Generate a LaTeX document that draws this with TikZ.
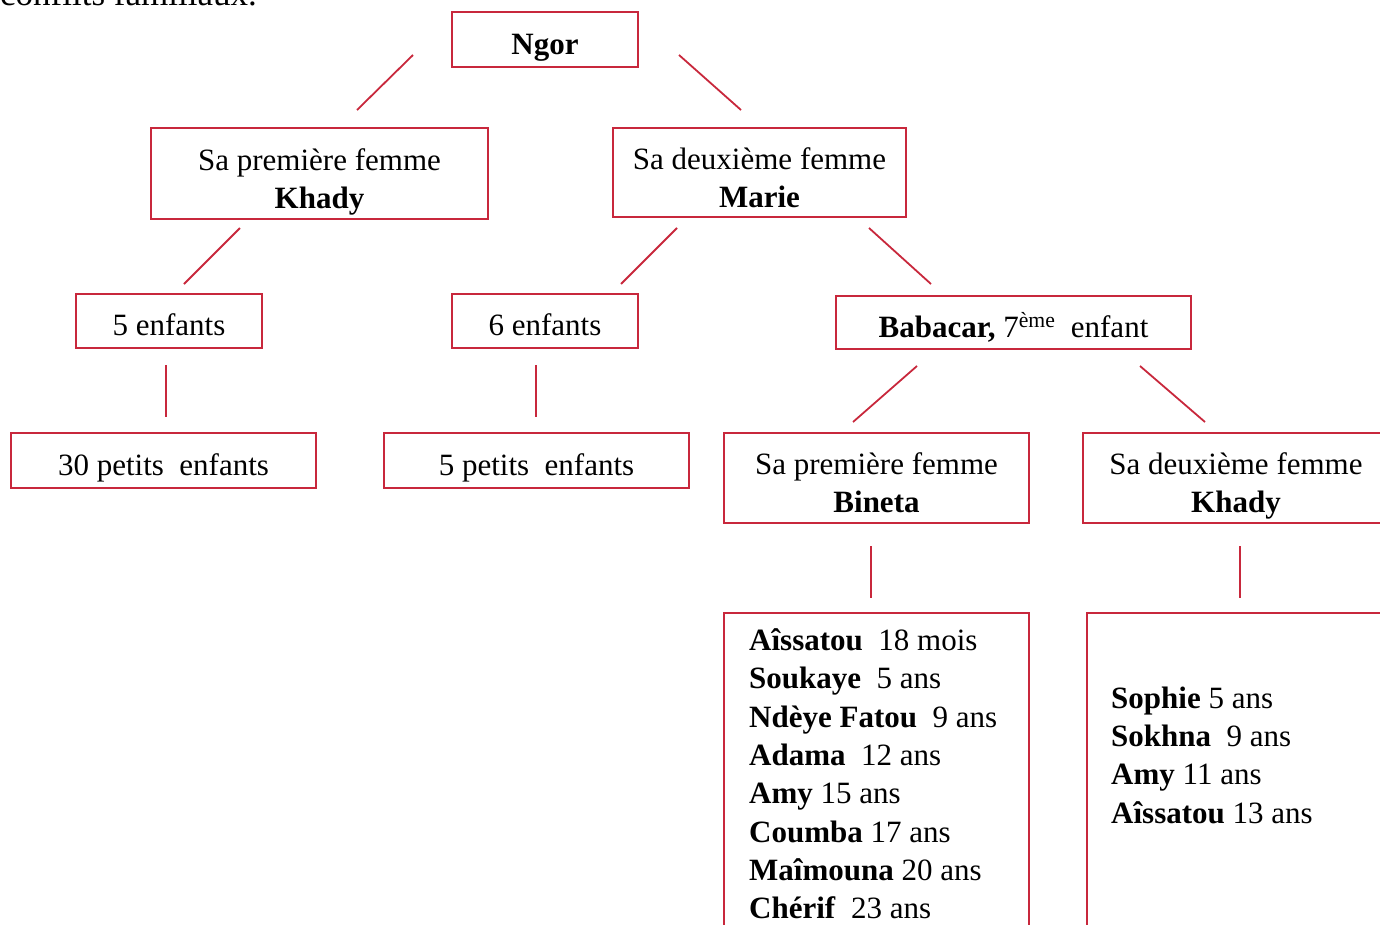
\documentclass[tikz,border=0pt]{standalone}
\usepackage{fontspec}
\setmainfont{Liberation Serif}
\definecolor{boxred}{RGB}{200,40,60}
\newcommand{\hstrut}{\rule{0pt}{39.3pt}}
\newcommand{\dstrut}{\rule[-8pt]{0pt}{8pt}}
\begin{document}
\begin{tikzpicture}[x=1pt,y=-1pt,
  box/.style={draw=boxred, line width=2.5pt, inner sep=0pt, align=center,
    font=\fontsize{31}{38.3}\selectfont,
    execute at begin node={\rule[-8pt]{0pt}{45pt}},
    execute at end node={\rule[-8pt]{0pt}{8pt}}},
  boxtwo/.style={draw=boxred, line width=2.5pt, inner sep=0pt, align=center,
    font=\fontsize{31}{38.3}\selectfont},
  link/.style={draw=boxred, line width=1.8pt},
  list/.style={anchor=north west, inner sep=0pt, align=left, font=\fontsize{31}{38.3}\selectfont}]
\useasboundingbox (0,0) rectangle (1380,924);
\clip (0,0) rectangle (1380,924);
\node[anchor=base west, inner sep=0pt, font=\fontsize{35}{40}\selectfont] (intro) at (0,5) {conflits familiaux.};
% boxes
\node[box, minimum width=186, minimum height=55] (ngor) at (545,39.5) {\textbf{Ngor}};
\node[boxtwo, minimum width=337, minimum height=91] (khady1) at (319.5,173.5) {\hstrut Sa première femme\\\textbf{Khady}\dstrut};
\node[boxtwo, minimum width=293, minimum height=89] (marie) at (759.5,172.5) {\hstrut Sa deuxième femme\\\textbf{Marie}\dstrut};
\node[box, minimum width=186, minimum height=54] (e5) at (169,321) {5 enfants};
\node[box, minimum width=186, minimum height=54] (e6) at (545,321) {6 enfants};
\node[box, minimum width=355, minimum height=53] (baba) at (1013.5,322.5) {\textbf{Babacar,} 7\textsuperscript{ème}\ \ enfant};
\node[box, minimum width=305, minimum height=55] (pe30) at (163.5,460.5) {30 petits\ \ enfants};
\node[box, minimum width=305, minimum height=55] (pe5) at (536.5,460.5) {5 petits\ \ enfants};
\node[boxtwo, minimum width=305, minimum height=90] (bineta) at (876.5,478) {\hstrut Sa première femme\\\textbf{Bineta}\dstrut};
\node[boxtwo, minimum width=306, minimum height=90] (khady2) at (1236,478) {\hstrut Sa deuxième femme\\\textbf{Khady}\dstrut};
\node[draw=boxred, line width=2.5pt, minimum width=305, minimum height=360] (kids1) at (876.5,793) {};
\node[draw=boxred, line width=2.5pt, minimum width=305, minimum height=360] (kids2) at (1239.5,793) {};
\node[list] (list1) at (749,628.5) {\textbf{Aîssatou}\ \ 18 mois\\
\textbf{Soukaye}\ \ 5 ans\\
\textbf{Ndèye Fatou}\ \ 9 ans\\
\textbf{Adama}\ \ 12 ans\\
\textbf{Amy} 15 ans\\
\textbf{Coumba} 17 ans\\
\textbf{Maîmouna} 20 ans\\
\textbf{Chérif}\ \ 23 ans};
\node[list] (list2) at (1111,686.5) {\textbf{Sophie} 5 ans\\
\textbf{Sokhna}\ \ 9 ans\\
\textbf{Amy} 11 ans\\
\textbf{Aîssatou} 13 ans};
% connector ends
\coordinate (c1a) at (413,55);   \coordinate (c1b) at (357,110);
\coordinate (c2a) at (679,55);   \coordinate (c2b) at (741,110);
\coordinate (c3a) at (240,228);  \coordinate (c3b) at (184,284);
\coordinate (c4a) at (677,228);  \coordinate (c4b) at (621,284);
\coordinate (c5a) at (869,228);  \coordinate (c5b) at (931,284);
\coordinate (c6a) at (166,365);  \coordinate (c6b) at (166,417);
\coordinate (c7a) at (536,365);  \coordinate (c7b) at (536,417);
\coordinate (c8a) at (917,366);  \coordinate (c8b) at (853,422);
\coordinate (c9a) at (1140,366); \coordinate (c9b) at (1205,422);
\coordinate (c10a) at (871,546); \coordinate (c10b) at (871,598);
\coordinate (c11a) at (1240,546);\coordinate (c11b) at (1240,598);
\draw[link] (c1a) -- (c1b);
\draw[link] (c2a) -- (c2b);
\draw[link] (c3a) -- (c3b);
\draw[link] (c4a) -- (c4b);
\draw[link] (c5a) -- (c5b);
\draw[link] (c6a) -- (c6b);
\draw[link] (c7a) -- (c7b);
\draw[link] (c8a) -- (c8b);
\draw[link] (c9a) -- (c9b);
\draw[link] (c10a) -- (c10b);
\draw[link] (c11a) -- (c11b);
\end{tikzpicture}
\end{document}
